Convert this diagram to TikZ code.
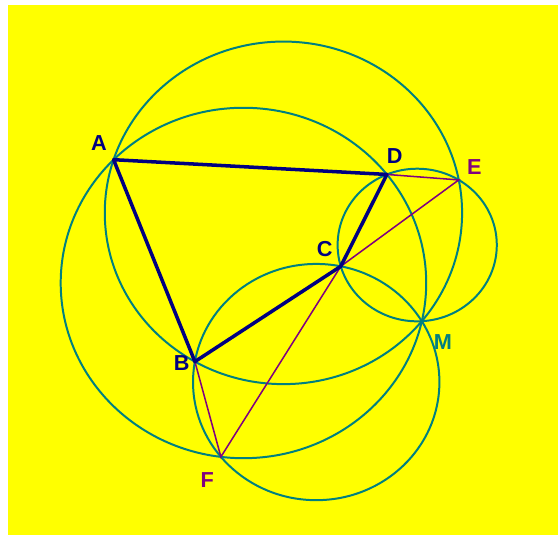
\documentclass[tikz,border=0pt]{standalone}
\usepackage{fontspec}
\setmainfont{Liberation Sans}
\definecolor{bgyellow}{HTML}{FFFF00}
\definecolor{circteal}{HTML}{008080}
\definecolor{sidenavy}{HTML}{000080}
\definecolor{auxpurple}{HTML}{800080}
\tikzset{
  circ/.style={draw=circteal, line width=1.7pt},
  side/.style={draw=sidenavy, line width=3pt, line join=round},
  aux/.style={draw=auxpurple, line width=1.3pt},
  lbl/.style={inner sep=0pt, font=\fontsize{18.5}{20}\selectfont\bfseries},
}
\begin{document}
\begin{tikzpicture}[x=0.03cm, y=-0.02877cm]
    \useasboundingbox (0,0) rectangle (558,557.9);
    \fill[bgyellow] (8,5.2) rectangle (558,557.9);
    % centres of the four circles, all of them through M
    \coordinate (O1) at (417.21,255.54);
    \coordinate (O2) at (316.22,398.47);
    \coordinate (O3) at (243.45,295.14);
    \coordinate (O4) at (283.43,221.99);
    \coordinate (M) at (421.8,335.0);
    \coordinate (A) at (113.59,166.55);
    \coordinate (B) at (194.89,377.16);
    \coordinate (C) at (340.78,277.75);
    \coordinate (D) at (386.92,181.94);
    \coordinate (E) at (458.75,187.65);
    \coordinate (F) at (220.89,476.49);
    \draw[circ] (O1) circle (79.59);
    \draw[circ] (O2) circle (123.19);
    \draw[circ] (O3) circle (182.75);
    \draw[circ] (O4) circle (178.65);
    \draw[aux] (D) -- (E) -- (C);
    \draw[aux] (B) -- (F) -- (C);
    \draw[side] (A) -- (B) -- (C) -- (D) -- cycle;
    \node[lbl, text=sidenavy] (lA) at (99,149.1) {A};
    \node[lbl, text=sidenavy] (lB) at (181.7,378.2) {B};
    \node[lbl, text=sidenavy] (lC) at (324.7,259.6) {C};
    \node[lbl, text=sidenavy] (lD) at (394.7,162.4) {D};
    \node[lbl, text=auxpurple] (lE) at (474.3,174.1) {E};
    \node[lbl, text=auxpurple] (lF) at (207.2,500.8) {F};
    \node[lbl, text=circteal] (lM) at (443,356.3) {M};
\end{tikzpicture}
\end{document}
